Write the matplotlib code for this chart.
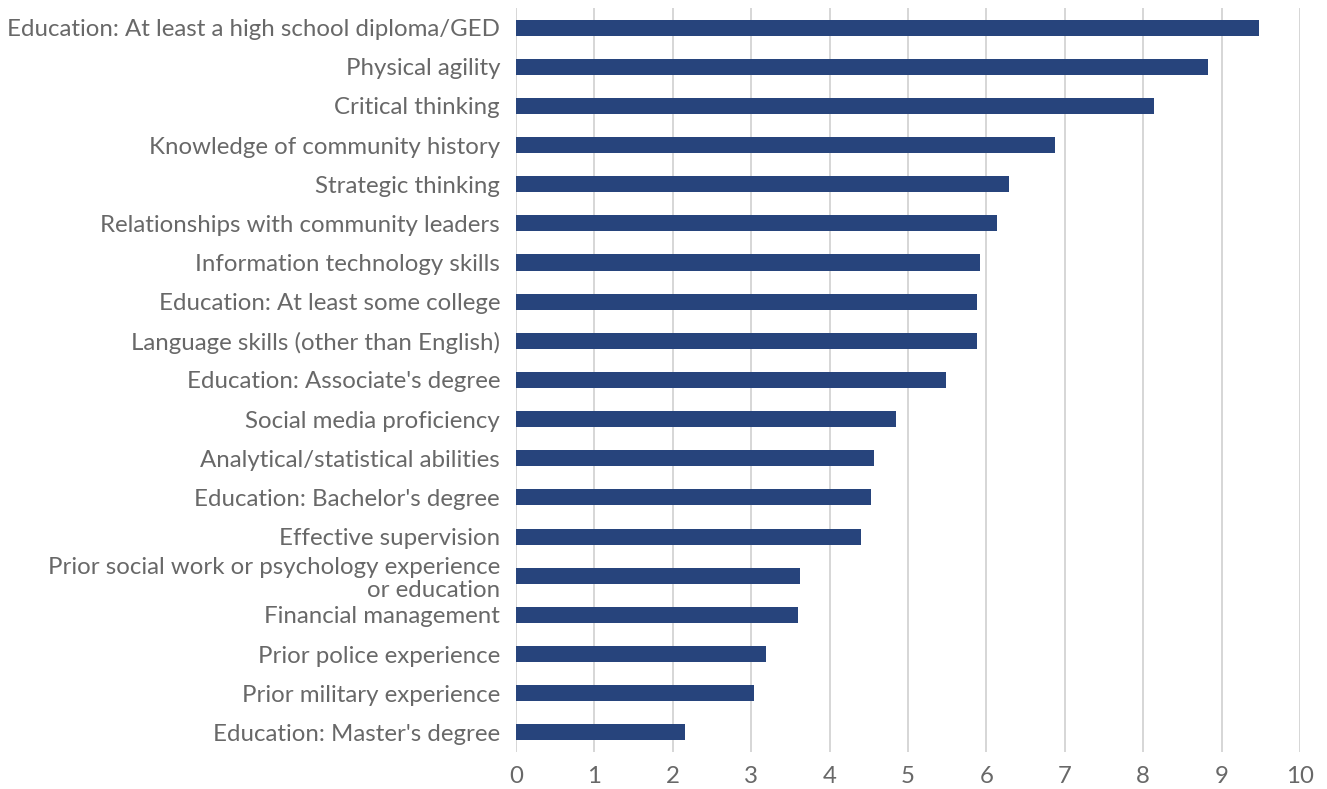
import matplotlib.pyplot as plt

# categories, top to bottom as in the chart
labels = [
    "Education: At least a high school diploma/GED",
    "Physical agility",
    "Critical thinking",
    "Knowledge of community history",
    "Strategic thinking",
    "Relationships with community leaders",
    "Information technology skills",
    "Education: At least some college",
    "Language skills (other than English)",
    "Education: Associate's degree",
    "Social media proficiency",
    "Analytical/statistical abilities",
    "Education: Bachelor's degree",
    "Effective supervision",
    "Prior social work or psychology experience\nor education",
    "Financial management",
    "Prior police experience",
    "Prior military experience",
    "Education: Master's degree",
]
values = [9.48, 8.82, 8.14, 6.87, 6.29, 6.13, 5.92, 5.88, 5.88, 5.49,
          4.84, 4.57, 4.53, 4.40, 3.62, 3.59, 3.19, 3.03, 2.15]
xticks = list(range(0, 11))

plt.rcParams['font.family'] = ['Lato', 'DejaVu Sans']
grey = '#686868'

fig = plt.figure(figsize=(13.27, 7.89), dpi=100)
ax = fig.add_axes([0.3889, 0.0469, 0.5908, 0.943])

ypos = list(range(len(labels)))[::-1]
ax.barh(ypos, values, height=0.41, color='#27447C', zorder=3)

ax.set_xlim(0, 10)
ax.set_ylim(-0.5, len(labels) - 0.5)
ax.set_xticks(xticks)
ax.set_yticks(ypos)
ax.set_yticklabels(labels, linespacing=1.15)

ax.grid(axis='x', color='#CFCFCF', linewidth=1.2, zorder=0)
for s in ax.spines.values():
    s.set_visible(False)
ax.tick_params(axis='y', length=0, pad=11.5, labelsize=17.3, labelcolor=grey)
ax.tick_params(axis='x', length=0, pad=10, labelsize=17.3, labelcolor=grey)

fig.savefig('out.png', dpi=100)
